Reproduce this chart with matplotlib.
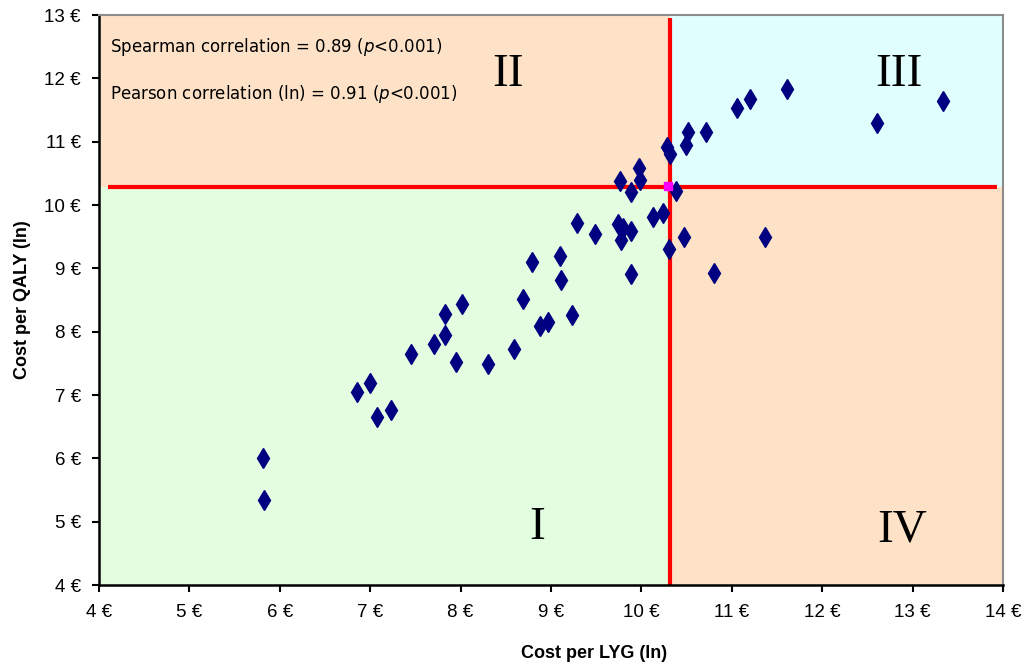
import matplotlib
matplotlib.use("Agg")
import matplotlib.pyplot as plt

plt.rcParams["font.family"] = ["Liberation Sans", "DejaVu Sans"]

# ln(cost per LYG) vs ln(cost per QALY), one point per study
lyg = [5.81, 5.82, 6.85, 7.00, 7.08, 7.23, 7.45, 7.71, 7.83, 7.83, 7.95, 8.01,
       8.30, 8.59, 8.69, 8.79, 8.88, 8.97, 9.10, 9.11, 9.23, 9.29, 9.49, 9.74,
       9.80, 9.89, 9.77, 9.88, 10.13, 10.24, 10.31, 10.47, 10.80, 11.37,
       9.76, 9.97, 9.98, 9.89, 10.28, 10.32, 10.38, 10.49, 10.52, 10.71,
       11.06, 11.20, 11.61, 12.61, 13.34]
qaly = [6.00, 5.35, 7.04, 7.19, 6.65, 6.77, 7.64, 7.80, 7.95, 8.28, 7.52, 8.43,
        7.49, 7.72, 8.51, 9.10, 8.09, 8.16, 9.19, 8.82, 8.26, 9.72, 9.54, 9.70,
        9.63, 9.59, 9.45, 8.91, 9.81, 9.88, 9.31, 9.50, 8.93, 9.49,
        10.38, 10.59, 10.40, 10.20, 10.91, 10.80, 10.22, 10.95, 11.16, 11.16,
        11.53, 11.67, 11.83, 11.30, 11.64]
mean_pt = (10.29, 10.30)
cut_lyg, cut_qaly = 10.32, 10.28
ticks = [4, 5, 6, 7, 8, 9, 10, 11, 12, 13, 14]
yticks = [4, 5, 6, 7, 8, 9, 10, 11, 12, 13]
quad_labels = ["I", "II", "III", "IV"]
stats = ["Spearman correlation = 0.89 ($\\it{p}$<0.001)",
         "Pearson correlation (ln) = 0.91 ($\\it{p}$<0.001)"]

peach, green, cyan = "#FDE2C8", "#E3FDE0", "#E0FEFE"

fig = plt.figure(figsize=(10.33, 6.69), dpi=100)
ax = fig.add_axes([99/1033, 84/669, 904/1033, 570/669])
ax.set_xlim(4, 14); ax.set_ylim(4, 13)

# quadrant backgrounds
ax.fill_between([4, cut_lyg], 4, cut_qaly, color=green, lw=0, zorder=0)
ax.fill_between([4, cut_lyg], cut_qaly, 13, color=peach, lw=0, zorder=0)
ax.fill_between([cut_lyg, 14], cut_qaly, 13, color=cyan, lw=0, zorder=0)
ax.fill_between([cut_lyg, 14], 4, cut_qaly, color=peach, lw=0, zorder=0)

ax.plot([4.1, 13.93], [cut_qaly, cut_qaly], color="#FF0000", lw=3, zorder=2, solid_capstyle="butt")
ax.plot([cut_lyg, cut_lyg], [4, 12.95], color="#FF0000", lw=3, zorder=2, solid_capstyle="butt")

ax.plot(lyg, qaly, "d", color="#000080", ms=10, mec="#000080", ls="none", zorder=4)
ax.plot([mean_pt[0]], [mean_pt[1]], "s", color="#FF00FF", ms=6, zorder=5)

for lab, (x, y) in zip(quad_labels, [(8.85, 4.9), (8.52, 12.05), (12.85, 12.05), (12.88, 4.87)]):
    ax.text(x, y, lab, fontsize=34, family="Liberation Serif", ha="center", va="center", zorder=6)

ax.text(4.12, 12.49, stats[0], fontsize=12, family="DejaVu Sans", ha="left", va="center", zorder=6)
ax.text(4.12, 11.75, stats[1], fontsize=12, family="DejaVu Sans", ha="left", va="center", zorder=6)

ax.set_xticks(ticks); ax.set_yticks(yticks)
ax.set_xticklabels([f"{t} \u20ac" for t in ticks])
ax.set_yticklabels([f"{t} \u20ac" for t in yticks])
ax.tick_params(axis="both", direction="out", length=5, width=1.5, labelsize=13.5)
ax.tick_params(axis="x", pad=9)
ax.tick_params(axis="y", pad=8)
for s in ("left", "bottom"):
    ax.spines[s].set_color("black"); ax.spines[s].set_linewidth(1.8)
for s in ("top", "right"):
    ax.spines[s].set_color("#8C8C8C"); ax.spines[s].set_linewidth(1.5)

ax.set_xlabel("Cost per LYG (ln)", fontsize=13, fontweight="bold")
ax.set_ylabel("Cost per QALY (ln)", fontsize=13, fontweight="bold")
ax.xaxis.set_label_coords(0.548, -0.105)
ax.yaxis.set_label_coords(-0.075, 0.5)

fig.savefig("out.png", dpi=100)
